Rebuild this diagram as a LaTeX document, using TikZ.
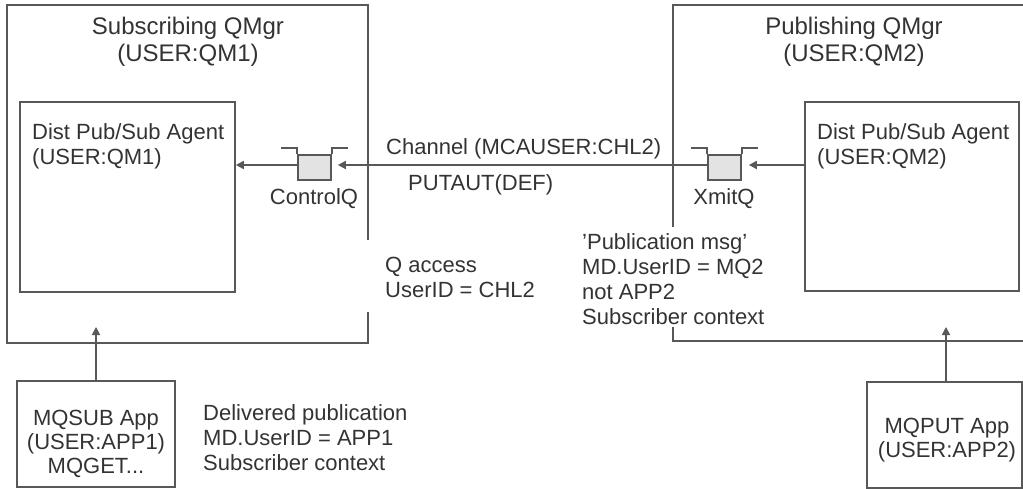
\documentclass[tikz,border=0pt]{standalone}
\usepackage{fontspec}
\setmainfont{Liberation Sans}
\usetikzlibrary{arrows.meta}
\definecolor{ln}{HTML}{585858}
\definecolor{txt}{HTML}{333333}
\definecolor{qgray}{HTML}{E3E3E3}
\begin{document}
\begin{tikzpicture}[x=1pt,y=-1pt,
  frame/.style={draw=ln,line width=1.7pt},
  box/.style={draw=ln,line width=1.7pt,inner sep=0pt},
  queue/.style={draw=ln,line width=1.7pt,fill=qgray,inner sep=0pt,minimum width=33pt,minimum height=25pt},
  arr/.style={draw=ln,line width=1.7pt,-{Triangle[length=8pt,width=8pt]}},
  lbl/.style={text=txt,inner sep=0pt,font=\fontsize{22}{25}\selectfont,align=left},
  clbl/.style={text=txt,inner sep=0pt,font=\fontsize{22}{24}\selectfont,align=center},
  ttl/.style={text=txt,inner sep=0pt,font=\fontsize{24}{27}\selectfont,align=center}]
\useasboundingbox (0,0) rectangle (1023,489);
\clip (0,0) rectangle (1023,489);
% outer queue manager frames (with gaps where text crosses)
\draw[frame] (368,240) -- (368,5) -- (7,5) -- (7,343) -- (368,343) -- (368,312);
\draw[frame] (673,227) -- (673,5) -- (1040,5) -- (1040,341) -- (673,341) -- (673,327);
% (multi-line nodes: base anchor = baseline of last line)
\node[ttl,anchor=base] (t1) at (188,62) {Subscribing QMgr\\(USER:QM1)};
\node[ttl,anchor=base] (t2) at (854,62) {Publishing QMgr\\(USER:QM2)};
% agents
\node[box,minimum width=215pt,minimum height=190pt] (agent1) at (127.5,197) {};
\node[box,minimum width=214pt,minimum height=189pt] (agent2) at (912,196.5) {};
\node[lbl,anchor=base west] (a1t) at (32,165) {Dist Pub/Sub Agent\\(USER:QM1)};
\node[lbl,anchor=base west] (a2t) at (817,165) {Dist Pub/Sub Agent\\(USER:QM2)};
% queues
\node[queue] (cq) at (314.5,167.5) {};
\node[queue] (xq) at (724.5,167.5) {};
\foreach \q in {cq,xq}{
  \draw[frame] (\q.north west) -- ++(0,-6) -- ++(-16,0);
  \draw[frame] (\q.north east) -- ++(0,-6) -- ++(16,0);
}
\node[lbl,anchor=base] (cql) at (314,205) {ControlQ};
\node[lbl,anchor=base] (xql) at (724,205) {XmitQ};
% arrows
\coordinate (cqin) at ([xshift=6pt,yshift=2.5pt]cq.east);
\coordinate (xqin) at ([xshift=7pt,yshift=2.5pt]xq.east);
\draw[arr] ([yshift=2.5pt]cq.west) -- ([yshift=2.5pt]cq.west -| agent1.east);
\draw[arr] ([yshift=2.5pt]xq.west) -- (cqin);
\draw[arr] (xqin -| agent2.west) -- (xqin);
\node[lbl,anchor=base west] (chl) at (386,155) {Channel (MCAUSER:CHL2)};
\node[lbl,anchor=base west] (put) at (408,191) {PUTAUT(DEF)};
\node[lbl,anchor=base west] (qacc) at (385,298) {Q access\\UserID = CHL2};
\node[lbl,anchor=base west] (pmsg) at (582,324) {\char39 Publication msg\char39\\MD.UserID = MQ2\\not APP2\\Subscriber context};
% applications
\node[box,minimum width=158pt,minimum height=106pt] (sub) at (96,434) {};
\node[box,minimum width=155pt,minimum height=106pt] (pub) at (944.5,435) {};
\node[clbl,anchor=base] (subt) at (96,473) {MQSUB App\\(USER:APP1)\\MQGET...};
\node[clbl,anchor=base] (pubt) at (947,457) {MQPUT App\\(USER:APP2)};
\node[lbl,anchor=base west] (deliv) at (203,470) {Delivered publication\\MD.UserID = APP1\\Subscriber context};
\coordinate (subin) at (96,327);
\coordinate (pubin) at (946,327);
\draw[arr] (sub.north) -- (subin);
\draw[arr] (pub.north -| pubin) -- (pubin);
\end{tikzpicture}
\end{document}
